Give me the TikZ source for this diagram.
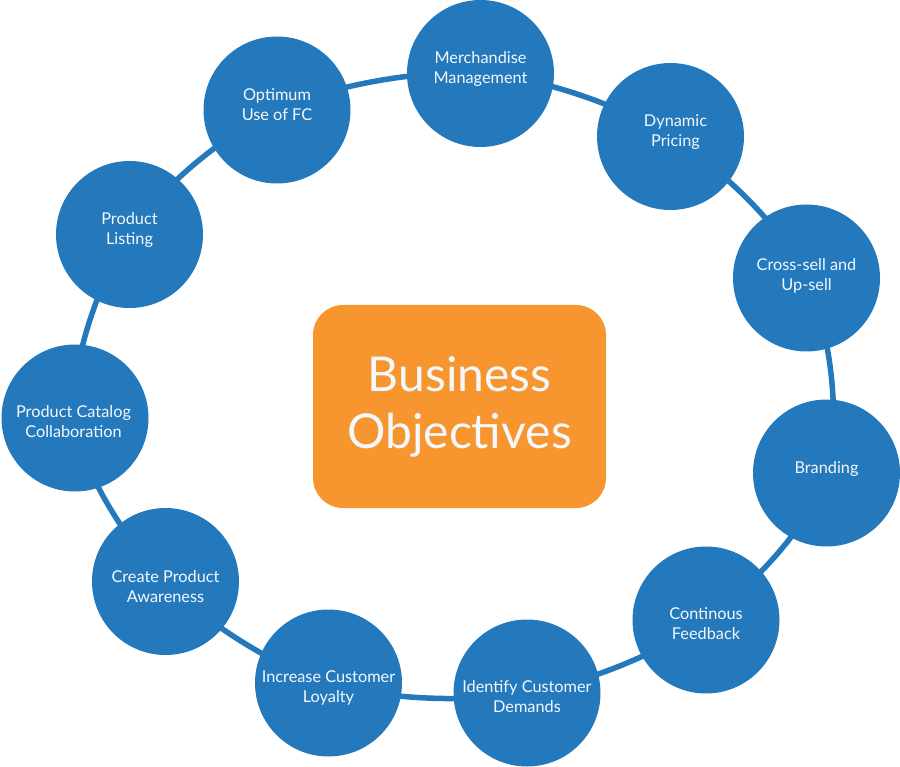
\documentclass[tikz,border=0pt]{standalone}
\usepackage{fontspec}
\setmainfont{Lato}
\definecolor{ringblue}{HTML}{2479BD}
\definecolor{boxorange}{HTML}{F7962F}
\definecolor{txtwhite}{HTML}{F4F8FC}
\tikzset{
  bubble/.style={circle, fill=ringblue, minimum size=147pt, inner sep=0pt},
  bubtext/.style={text=txtwhite, align=center, font=\fontsize{16.3}{20}\selectfont, inner sep=0pt},
  ring/.style={draw=ringblue, line width=5.5pt},
  centerbox/.style={rectangle, rounded corners=30pt, fill=boxorange,
    minimum width=293pt, minimum height=203pt, text=txtwhite, align=center,
    font=\fontsize{48}{57}\selectfont}
}
\begin{document}
\begin{tikzpicture}[x=1pt,y=-1pt]
\useasboundingbox (0,0) rectangle (900,767);
\coordinate (cMM) at (480.5,73.5);
\coordinate (cDP) at (670.5,136.5);
\coordinate (cCS) at (806.5,278);
\coordinate (cBR) at (826.5,473);
\coordinate (cCF) at (706,620);
\coordinate (cIC) at (527,693);
\coordinate (cIL) at (328.5,683);
\coordinate (cCP) at (165.5,581.5);
\coordinate (cPC) at (75,418);
\coordinate (cPL) at (129.5,234.5);
\coordinate (cOU) at (277,110);
\draw[ring] plot[smooth cycle, tension=0.55] coordinates {(cMM) (cDP) (cCS) (cBR) (cCF) (cIC) (cIL) (cCP) (cPC) (cPL) (cOU)};
\node[bubble, label={[bubtext, yshift=5pt]center:Merchandise\\Management}] (MM) at (cMM) {};
\node[bubble, label={[bubtext, yshift=4pt, xshift=5pt]center:Dynamic\\Pricing}] (DP) at (cDP) {};
\node[bubble, label={[bubtext, yshift=2pt]center:Cross-sell and\\Up-sell}] (CS) at (cCS) {};
\node[bubble, label={[bubtext, yshift=4pt]center:Branding}] (BR) at (cBR) {};
\node[bubble, label={[bubtext, yshift=-4pt]center:Continous\\Feedback}] (CF) at (cCF) {};
\node[bubble, label={[bubtext, yshift=-4pt]center:Identify Customer\\Demands}] (IC) at (cIC) {};
\node[bubble, label={[bubtext, yshift=-5pt]center:Increase Customer\\Loyalty}] (IL) at (cIL) {};
\node[bubble, label={[bubtext, yshift=-5pt]center:Create Product\\Awareness}] (CP) at (cCP) {};
\node[bubble, label={[bubtext, yshift=-4pt, xshift=-1.5pt]center:Product Catalog\\Collaboration}] (PC) at (cPC) {};
\node[bubble, label={[bubtext, yshift=5pt]center:Product\\Listing}] (PL) at (cPL) {};
\node[bubble, label={[bubtext, yshift=5pt]center:Optimum\\Use of FC}] (OU) at (cOU) {};
\node[centerbox] (BO) at (459.5,406.5) {Business\\Objectives};
\end{tikzpicture}
\end{document}
